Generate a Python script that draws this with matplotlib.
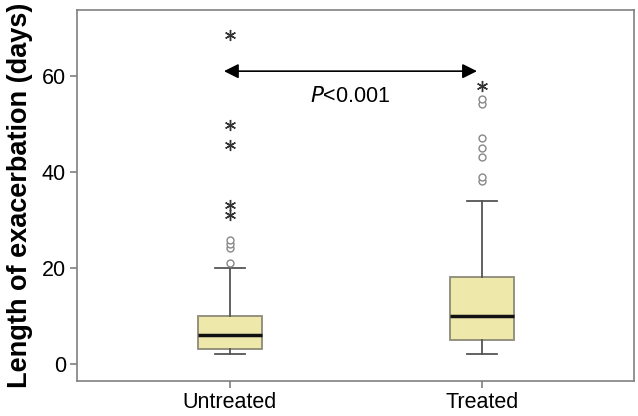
import matplotlib
matplotlib.use("Agg")
import matplotlib.pyplot as plt

plt.rcParams['font.family'] = ['Liberation Sans', 'DejaVu Sans']

categories = ["Untreated", "Treated"]
whislo = [2, 2]
q1 = [3, 5]
med = [6, 10]
q3 = [10, 18]
whishi = [20, 34]
circle_outliers = [[21, 24.2, 25, 25.8], [38, 39, 43, 45, 47, 54.2, 55.2]]
star_outliers = [[31, 33, 45.6, 49.8, 68.5], [58]]
yticks = [0, 20, 40, 60]

fig = plt.figure(figsize=(6.38, 4.16), dpi=100)
ax = fig.add_axes([77/638, 35/416, 557/638, 371/416])

stats = []
for i, c in enumerate(categories):
    stats.append(dict(label=c, whislo=whislo[i], q1=q1[i], med=med[i],
                      q3=q3[i], whishi=whishi[i], fliers=circle_outliers[i]))

positions = list(range(1, len(categories) + 1))
ax.bxp(stats, positions=positions, widths=0.254, patch_artist=True,
       boxprops=dict(facecolor='#EEE8AA', edgecolor='#8c8a78', linewidth=1.3),
       medianprops=dict(color='#111111', linewidth=2.5),
       whiskerprops=dict(color='#555555', linewidth=1.3),
       capprops=dict(color='#555555', linewidth=1.3),
       capwidths=0.12,
       flierprops=dict(marker='o', markersize=5, markerfacecolor='white',
                       markeredgecolor='#888888', markeredgewidth=1.0,
                       linestyle='none'))

for p, s in zip(positions, star_outliers):
    ax.plot([p] * len(s), s, linestyle='none', marker=(6, 2, 0),
            markersize=8, markeredgecolor='#333333', markeredgewidth=1.0)

ax.annotate('', xy=(1.98, 61), xytext=(0.976, 61),
            arrowprops=dict(arrowstyle='<|-|>', color='black', lw=1.2,
                            mutation_scale=22, shrinkA=0, shrinkB=0))
ax.text(1.476, 55.8, r'$\mathit{P}$<0.001', ha='center', va='center',
        fontsize=15.5)

ax.set_xlim(0.393, 2.603)
ax.set_ylim(-3.6, 73.75)
ax.set_yticks(yticks)
ax.set_xticks(positions)
ax.set_xticklabels(categories)
for sp in ax.spines.values():
    sp.set_color('#808080')
    sp.set_linewidth(1.2)
ax.tick_params(axis='both', colors='#808080', length=5, width=1.2,
               labelcolor='black', labelsize=15.5, pad=3)
ax.tick_params(axis='x', pad=3)
ax.set_ylabel('Length of exacerbation (days)', fontsize=19.5,
              fontweight='bold', labelpad=6)

fig.savefig('out.png', dpi=100)
